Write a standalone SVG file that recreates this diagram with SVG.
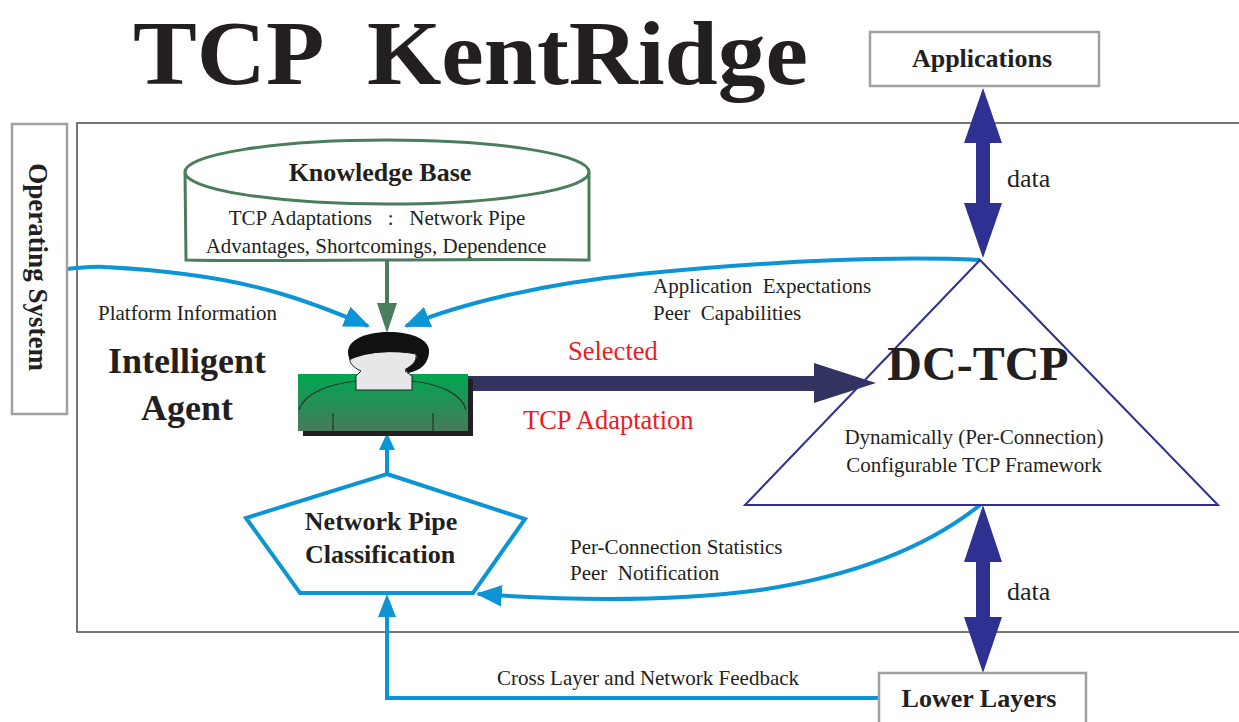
<svg xmlns="http://www.w3.org/2000/svg" width="1239" height="722" viewBox="0 0 1239 722">
  <style>
    .serif { font-family: "Liberation Serif", "Times New Roman", serif; fill: #231f20; }
    .bold { font-weight: bold; }
    .lbl { font-size: 21px; white-space: pre; }
    .red { fill: #ed1c24; font-size: 26.5px; }
    .box { fill: #fff; stroke: #a0a0a0; stroke-width: 2.5; }
    .flow { fill: none; stroke: #0b94d6; stroke-width: 4; }
    .dbl { fill: #2e3192; }
  </style>
  <defs>
    <marker id="blueHead" viewBox="0 0 12 10" refX="11" refY="5" markerWidth="6.5" markerHeight="5.5" markerUnits="strokeWidth" orient="auto">
      <path d="M0,0 L12,5 L0,10 Z" fill="#0b94d6"/>
    </marker>
    <linearGradient id="bodyFill" x1="0" y1="0" x2="0" y2="1">
      <stop offset="0" stop-color="#00a651"/>
      <stop offset="1" stop-color="#467a5c"/>
    </linearGradient>
  </defs>

  <rect width="1239" height="722" fill="#fff"/>

  <!-- title -->
  <text class="serif bold" x="133" y="84" font-size="92" textLength="675" lengthAdjust="spacingAndGlyphs" style="white-space:pre">TCP  KentRidge</text>

  <!-- host frame -->
  <rect x="77" y="123" width="1180" height="509" fill="none" stroke="#4a4a4a" stroke-width="1.5"/>

  <!-- connectors -->
  <g id="connectors">
    <!-- platform information into the agent -->
    <path class="flow" d="M67,269 C80,268 92,266 105,267 C160,270 220,276 275,292 C310,302 340,314 368,326" marker-end="url(#blueHead)"/>
    <!-- application expectations into the agent -->
    <path class="flow" d="M980,260 C900,256 780,260 640,274 C540,284 460,304 406,326" marker-end="url(#blueHead)"/>
    <!-- knowledge base into the agent -->
    <line x1="387" y1="260" x2="387" y2="306" stroke="#4a7d5c" stroke-width="4"/>
    <path d="M377,303 L397,303 L387,333 Z" fill="#4a7d5c"/>
    <!-- classification up to the agent -->
    <line class="flow" x1="387" y1="474" x2="387" y2="450"/>
    <path d="M379,450 L395,450 L387,433 Z" fill="#0b94d6"/>
    <!-- statistics back to the classifier -->
    <path class="flow" d="M980,505 C930,545 860,575 760,590 C660,603 560,600 478,594" marker-end="url(#blueHead)"/>
    <!-- cross layer feedback -->
    <path class="flow" d="M880,698 L387,698 L387,616"/>
    <path d="M378,617 L396,617 L387,594 Z" fill="#0b94d6"/>
    <!-- selected adaptation to DC-TCP -->
    <rect x="466" y="376" width="350" height="15" fill="#33335f"/>
    <path d="M814,363 L876,383 L814,403 Z" fill="#33335f"/>
    <!-- data exchange with applications -->
    <path class="dbl" d="M983,88 L1002,143 L990,143 L990,203 L1002,203 L983,258 L964,203 L976,203 L976,143 L964,143 Z"/>
    <!-- data exchange with lower layers -->
    <path class="dbl" d="M983,505 L1002,562 L990,562 L990,617 L1002,617 L983,673 L964,617 L976,617 L976,562 L964,562 Z"/>
  </g>

  <!-- labels on connectors -->
  <text class="serif lbl" x="98" y="320">Platform Information</text>
  <text class="serif lbl" x="653" y="293">Application  Expectations</text>
  <text class="serif lbl" x="653" y="320">Peer  Capabilities</text>
  <text class="serif red" x="568" y="360">Selected</text>
  <text class="serif red" x="523" y="429">TCP Adaptation</text>
  <text class="serif lbl" x="570" y="554">Per-Connection Statistics</text>
  <text class="serif lbl" x="570" y="580">Peer  Notification</text>
  <text class="serif lbl" x="497" y="685">Cross Layer and Network Feedback</text>
  <text class="serif" x="1007" y="187" font-size="26">data</text>
  <text class="serif" x="1007" y="600" font-size="26">data</text>

  <!-- operating system -->
  <g id="operating-system">
    <rect class="box" x="12" y="124" width="55" height="290"/>
    <text class="serif bold" x="29" y="267" font-size="27" text-anchor="middle" transform="rotate(90 29 267)">Operating System</text>
  </g>

  <!-- applications -->
  <g id="applications">
    <rect class="box" x="870" y="32" width="229" height="54"/>
    <text class="serif bold" x="982" y="67" font-size="26" text-anchor="middle">Applications</text>
  </g>

  <!-- lower layers -->
  <g id="lower-layers">
    <rect class="box" x="879" y="673" width="207" height="60"/>
    <text class="serif bold" x="979" y="707" font-size="26" text-anchor="middle">Lower Layers</text>
  </g>

  <!-- knowledge base -->
  <g id="knowledge-base">
    <path d="M185,172 L186,260 C260,262 500,258 589,260 L589,172" fill="#fff" stroke="#4a7d5c" stroke-width="3"/>
    <ellipse cx="387" cy="172" rx="202" ry="32" fill="#fff" stroke="#4a7d5c" stroke-width="3"/>
    <text class="serif bold" x="380" y="181" font-size="26" text-anchor="middle">Knowledge Base</text>
    <text class="serif lbl" x="377" y="225" text-anchor="middle">TCP Adaptations   :   Network Pipe</text>
    <text class="serif lbl" x="376" y="253" text-anchor="middle">Advantages, Shortcomings, Dependence</text>
  </g>

  <!-- intelligent agent -->
  <g id="intelligent-agent">
    <rect x="303" y="379" width="170" height="57" fill="#231f20"/>
    <rect x="298" y="374" width="170" height="57" fill="url(#bodyFill)"/>
    <path d="M299,410 C304,393 330,384 356,381 M412,381 C440,384 462,394 466,410 M333,413 L333,431 M433,413 L433,431" fill="none" stroke="#1c3a28" stroke-width="1.2"/>
    <path d="M350,358 C366,351 396,350 416,354 C417,362 411,368 405,371 L412,376 L412,390 L356,390 L356,376 L361,371 C352,367 349,362 350,358 Z" fill="#e6e7e8" stroke="#231f20" stroke-width="1"/>
    <path d="M350,360 C341,341 365,332 388,332 C413,332 431,340 429,353 C428,364 420,371 408,373 L405,369 C414,364 418,359 416,354 C396,350 366,352 350,360 Z" fill="#111"/>
    <text class="serif bold" x="187" y="373" font-size="36" text-anchor="middle">Intelligent</text>
    <text class="serif bold" x="187" y="420" font-size="36" text-anchor="middle">Agent</text>
  </g>

  <!-- DC-TCP framework -->
  <g id="dc-tcp">
    <path d="M980,260 L1218,505 L745,505 Z" fill="none" stroke="#2e3192" stroke-width="2"/>
    <text class="serif bold" x="978" y="380" font-size="48" text-anchor="middle">DC-TCP</text>
    <text class="serif lbl" x="974" y="444" text-anchor="middle">Dynamically (Per-Connection)</text>
    <text class="serif lbl" x="974" y="472" text-anchor="middle">Configurable TCP Framework</text>
  </g>

  <!-- network pipe classification -->
  <g id="network-pipe-classification">
    <path d="M387,474 L525,519 L473,593 L300,593 L246,518 Z" fill="#fff" stroke="#0b94d6" stroke-width="4" stroke-linejoin="miter"/>
    <text class="serif bold" x="381" y="530" font-size="26" text-anchor="middle">Network Pipe</text>
    <text class="serif bold" x="380" y="563" font-size="26" text-anchor="middle">Classification</text>
  </g>
</svg>
